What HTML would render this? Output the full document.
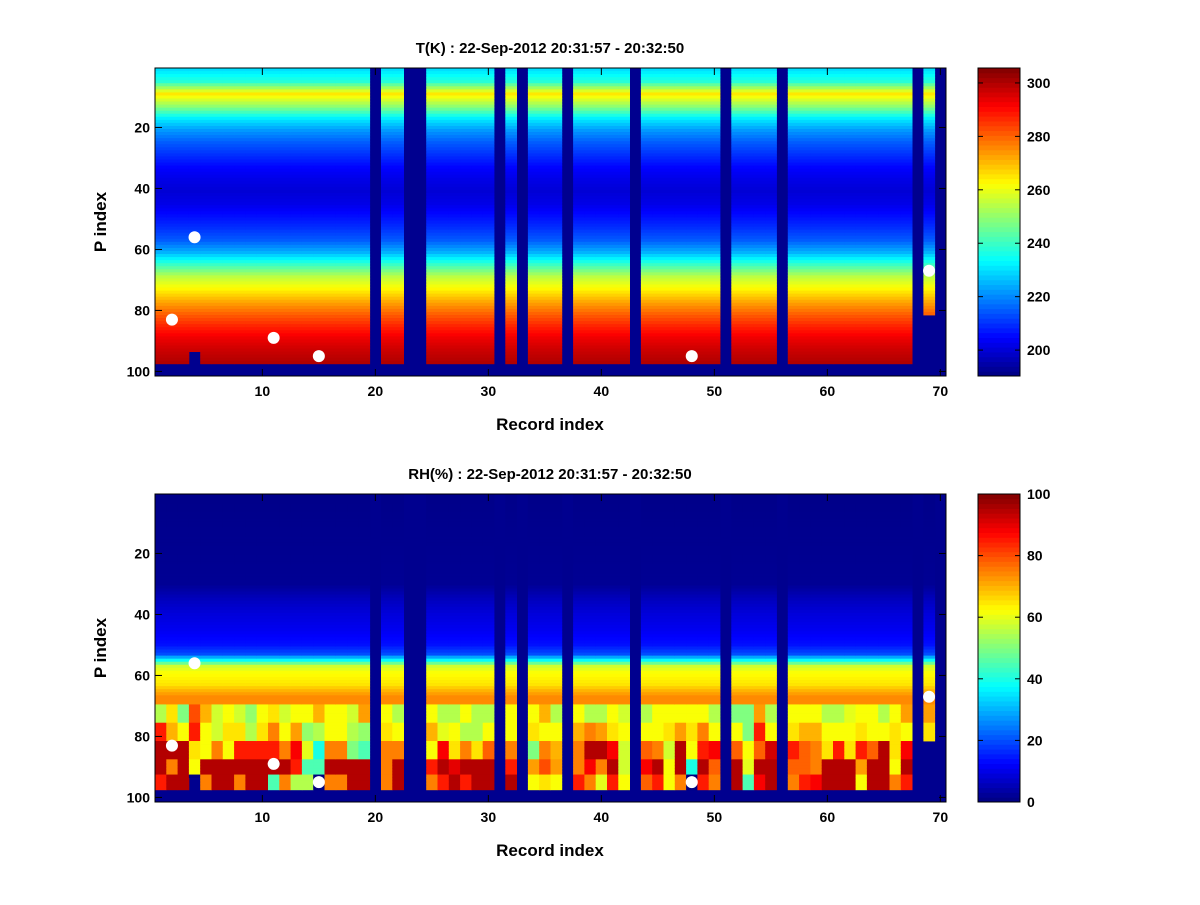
<!DOCTYPE html>
<html><head><meta charset="utf-8"><style>
body{margin:0;background:#fff;}
svg text{font-family:"Liberation Sans",sans-serif;font-weight:bold;fill:#000;}
</style></head><body>
<svg id="s" width="1200" height="900" xmlns="http://www.w3.org/2000/svg"></svg>
<script>
const missingCols=[20,23,24,31,33,37,43,51,56,68,70];
const tRows=[1,5,9,13,17,21,25,29,33,37,41,45,49,53,57,61,65,69,73,77,81,85,89,93,97];
const tVals=[230,238,265,250,232,222,215,210,205,202,200,202,206,210,215,225,240,255,263,272,280,287,293,297,300];
const rhRows=[1,30,35,40,45,50,53,55,57,59,63,65,67];
const rhVals=[1,2,6,9,11,14,20,38,58,62,65,70,74];
const rhA=[55,65,50,80,70,58,62,58,52,62,65,58,62,62,70,62,62,58,72,0,62,55,0,0,62,55,55,62,55,55,0,62,0,62,70,55,0,62,55,55,62,58,0,55,62,62,62,62,62,55,0,50,50,72,55,0,62,62,62,55,55,60,62,62,55,62,72,0,72,0];
const rhB=[85,70,62,85,62,58,65,65,55,65,75,62,72,52,55,62,62,55,52,0,65,62,0,0,70,60,62,55,55,62,0,62,0,65,62,62,0,70,75,72,65,62,0,62,62,65,72,65,75,62,0,62,50,85,62,0,65,70,70,62,62,62,65,62,62,65,62,0,65,0];
const rhC=[95,95,95,65,62,75,62,85,85,85,85,75,88,60,40,75,75,50,45,0,75,75,0,0,62,88,65,75,65,78,0,75,0,50,75,70,0,75,95,95,88,58,0,78,75,58,95,62,85,88,0,78,62,78,92,0,85,78,75,65,85,65,85,78,95,65,88,0,55,0];
const rhD=[95,75,95,62,95,95,95,95,95,95,95,95,85,45,45,95,95,95,95,0,75,95,0,0,85,95,90,95,95,95,0,85,0,72,80,72,0,75,88,75,95,58,0,88,95,62,95,40,95,78,0,95,60,95,95,0,78,78,75,95,95,95,72,95,95,62,95,0,0,0];
const rhE=[85,95,95,0,75,95,95,75,95,95,45,75,55,55,0,75,75,95,95,0,75,95,0,0,75,85,95,85,95,95,0,95,0,62,65,62,0,85,75,60,85,62,0,78,85,62,75,0,85,75,0,95,45,88,95,0,75,85,88,95,95,95,62,95,95,75,85,0,0,0];
const colPartial=[{col:4,lastRow:93},{col:69,lastRow:81}];
const tDots=[[2,83],[4,56],[11,89],[15,95],[48,95],[69,67]];
const tTicks=[200,220,240,260,280,300];
const rhTicks=[0,20,40,60,80,100];
const xTicks=[10,20,30,40,50,60,70];
const yTicks=[20,40,60,80,100];

const NS="http://www.w3.org/2000/svg";
const svg=document.getElementById('s');
function el(tag,attrs,parent){const e=document.createElementNS(NS,tag);for(const k in attrs)e.setAttribute(k,attrs[k]);(parent||svg).appendChild(e);return e;}
function jet(t){t=Math.max(0,Math.min(1,t));
 const f=x=>Math.max(0,Math.min(1,x));
 const r=f(Math.min(4*t-1.5,-4*t+4.5)),g=f(Math.min(4*t-0.5,-4*t+3.5)),b=f(Math.min(4*t+0.5,-4*t+2.5));
 return `rgb(${Math.round(r*255)},${Math.round(g*255)},${Math.round(b*255)})`;}
function interp(rows,vals,r){if(r<=rows[0])return vals[0];for(let i=1;i<rows.length;i++){if(r<=rows[i]){const u=(r-rows[i-1])/(rows[i]-rows[i-1]);return vals[i-1]+u*(vals[i]-vals[i-1]);}}return vals[vals.length-1];}
const bands=[[70,75,rhA],[76,81,rhB],[82,87,rhC],[88,92,rhD],[93,97,rhE]];

function panel(cfg){
 const L=155,R=946,T=cfg.top,B=cfg.top+308;
 const xs=c=>L+(c-0.5)*(R-L)/70;
 const ys=r=>T+(r-0.5)*(B-T)/101;
 const g=el('g',{});
 
 
 el('rect',{x:L,y:T,width:R-L,height:B-T,fill:'#00008f'},g);
 const cw=(R-L)/70,rh=(B-T)/101;
 for(let c=1;c<=70;c++){
  if(missingCols.includes(c))continue;
  let last=97;colPartial.forEach(p=>{if(p.col===c)last=p.lastRow;});
  for(let r=1;r<=last;r++){
   const v=cfg.value(c,r);
   const cell=el('rect',{x:xs(c-0.5).toFixed(2),y:ys(r-0.5).toFixed(2),width:(cw+0.4).toFixed(2),height:(rh+0.4).toFixed(2),fill:jet((v-cfg.min)/(cfg.max-cfg.min))},g);
   
   
  }
 }
 tDots.forEach(d=>{const c=el('circle',{cx:xs(d[0]),cy:ys(d[1]),r:6,fill:'#fff'},g);
  
  });
 el('rect',{x:L,y:T,width:R-L,height:B-T,fill:'none',stroke:'#000','stroke-width':1},g);
 xTicks.forEach(t=>{const x=xs(t);
  el('line',{x1:x,y1:B,x2:x,y2:B-7,stroke:'#000'},g);el('line',{x1:x,y1:T,x2:x,y2:T+7,stroke:'#000'},g);
  const tx=el('text',{x:x,y:B+20,'text-anchor':'middle','font-size':14},g);tx.textContent=t;
  
  });
 yTicks.forEach(t=>{const y=ys(t);
  el('line',{x1:L,y1:y,x2:L+7,y2:y,stroke:'#000'},g);el('line',{x1:R,y1:y,x2:R-7,y2:y,stroke:'#000'},g);
  const tx=el('text',{x:L-5,y:y+5,'text-anchor':'end','font-size':14},g);tx.textContent=t;
  
  });
 const ti=el('text',{x:550,y:T-15,'text-anchor':'middle','font-size':15});ti.textContent=cfg.title;
 
 
 const xl=el('text',{x:550,y:B+54,'text-anchor':'middle','font-size':17});xl.textContent='Record index';
 
 
 const yl=el('text',{x:0,y:0,'text-anchor':'middle','font-size':17,transform:`translate(106,${(T+B)/2}) rotate(-90)`});yl.textContent='P index';
 
 
 const cb=el('g',{});
 
 
 const CL=978,CR=1020,n=64;
 for(let i=0;i<n;i++){const y0=B-(i+1)*(B-T)/n;
  el('rect',{x:CL,y:y0.toFixed(2),width:CR-CL,height:((B-T)/n+0.5).toFixed(2),fill:jet((i+0.5)/n)},cb);}
 el('rect',{x:CL,y:T,width:CR-CL,height:B-T,fill:'none',stroke:'#000'},cb);
 const cy=v=>B-(v-cfg.min)/(cfg.max-cfg.min)*(B-T);
 cfg.ticks.forEach(t=>{const y=cy(t);
  el('line',{x1:CL,y1:y,x2:CL+5,y2:y,stroke:'#000'},cb);el('line',{x1:CR,y1:y,x2:CR-5,y2:y,stroke:'#000'},cb);
  const tx=el('text',{x:CR+7,y:y+5,'font-size':14},cb);tx.textContent=t;
  
  });
}
panel({name:'temperature',top:68,min:190.3,max:305.6,ticks:tTicks,title:'T(K) : 22-Sep-2012 20:31:57 - 20:32:50',
 value:(c,r)=>interp(tRows,tVals,r)});
panel({name:'humidity',top:494,min:0,max:100,ticks:rhTicks,title:'RH(%) : 22-Sep-2012 20:31:57 - 20:32:50',
 value:(c,r)=>{for(const b of bands){if(r>=b[0]&&r<=b[1])return b[2][c-1];}return interp(rhRows,rhVals,r);}});
</script>
</body></html>
